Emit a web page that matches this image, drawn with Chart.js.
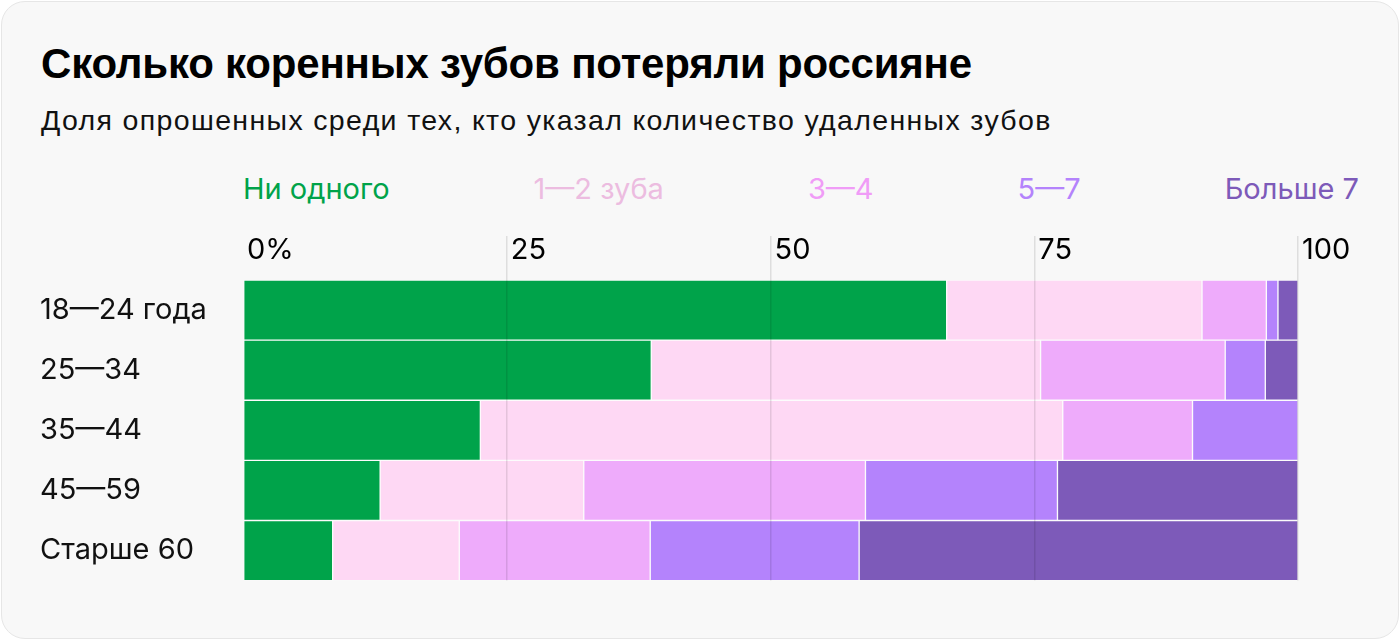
<!DOCTYPE html>
<html lang="ru">
<head>
  <meta charset="UTF-8">
  <title>Сколько коренных зубов потеряли россияне</title>
  <script src="https://cdn.jsdelivr.net/npm/chart.js"></script>
  <style>
    html, body { margin: 0; padding: 0; background: #ffffff; }
    .card {
      position: absolute; left: 1px; top: 1px; width: 1396px; height: 636px;
      background: #f8f8f8; border: 1px solid #e6e6e6; border-radius: 24px;
      font-family: "Liberation Sans", Arial, sans-serif; overflow: hidden;
    }
    h1 {
      position: absolute; left: 39px; top: 38px; margin: 0;
      font-size: 42px; font-weight: bold; color: #000; letter-spacing: -0.2px;
    }
    .sub {
      position: absolute; left: 39px; top: 102px; margin: 0;
      font-size: 28.5px; color: #111; letter-spacing: 1.35px;
    }
    #legend {
      position: absolute; left: 241px; top: 169px; width: 1116px;
      display: flex; justify-content: space-between;
      font-family: Inter, sans-serif; font-size: 29px;
    }
    .chart-box { position: absolute; left: -2px; top: 227px; width: 1400px; height: 372px; }
  </style>
</head>
<body>
<div class="card">
  <h1>Сколько коренных зубов потеряли россияне</h1>
  <p class="sub">Доля опрошенных среди тех, кто указал количество удаленных зубов</p>
  <div id="legend"></div>
  <div class="chart-box"><canvas id="teeth"></canvas></div>
</div>

<script>
  // data, % of respondents
  const ageGroups = ['18—24 года', '25—34', '35—44', '45—59', 'Старше 60'];
  const seriesNames = ['Ни одного', '1—2 зуба', '3—4', '5—7', 'Больше 7'];
  const noneLost   = [66.7, 38.7, 22.5, 13.0, 8.5];
  const lost1to2   = [24.2, 36.9, 55.2, 19.3, 12.0];
  const lost3to4   = [6.1, 17.5, 12.3, 26.7, 18.1];
  const lost5to7   = [1.1, 3.8, 10.0, 18.2, 19.8];
  const lostOver7  = [1.9, 3.1, 0, 22.8, 41.6];
  const tickLabels = ['0%', '25', '50', '75', '100'];

  const fills = ['#00a34a', '#fed8f4', '#eeabfb', '#b483fc', '#7d5ab9'];
  const textColors = ['#00a34a', '#ecbce0', '#f09cf7', '#b483fc', '#7d5ab9'];
  const allValues = [noneLost, lost1to2, lost3to4, lost5to7, lostOver7];

  // legend as coloured words
  const legend = document.getElementById('legend');
  seriesNames.forEach((name, i) => {
    const s = document.createElement('span');
    s.textContent = name;
    s.style.color = textColors[i];
    legend.appendChild(s);
  });

  const datasets = seriesNames.map((name, i) => ({
    label: name,
    data: allValues[i],
    backgroundColor: fills[i],
    borderColor: 'rgba(255,255,255,0.45)',
    borderWidth: 1,
    borderSkipped: false,
    barPercentage: 1,
    categoryPercentage: 1
  }));

  new Chart(document.getElementById('teeth'), {
    type: 'bar',
    data: { labels: ageGroups, datasets: datasets },
    options: {
      indexAxis: 'y',
      responsive: true,
      maintainAspectRatio: false,
      animation: false,
      layout: { padding: { left: 40, right: 102, top: 0, bottom: 10 } },
      plugins: { legend: { display: false }, tooltip: { enabled: false } },
      scales: {
        x: {
          position: 'top',
          stacked: true,
          min: 0, max: 100,
          afterFit: (scale) => { scale.height = 51; },
          border: { display: false },
          grid: {
            z: 1,
            tickLength: 44,
            color: (ctx) => ctx.tick && ctx.tick.value === 0 ? 'rgba(0,0,0,0)' : 'rgba(0,0,0,0.1)',
            lineWidth: 1.5
          },
          ticks: {
            stepSize: 25,
            align: 'start',
            labelOffset: 4,
            padding: -32,
            color: '#000',
            font: { family: 'Inter', size: 29 },
            callback: (v, i) => tickLabels[i]
          }
        },
        y: {
          stacked: true,
          afterFit: (scale) => { scale.width = 203; },
          border: { display: false },
          grid: { display: false },
          ticks: {
            crossAlign: 'far',
            color: '#111',
            font: { family: 'Inter', size: 29 }
          }
        }
      }
    }
  });
</script>
</body>
</html>
